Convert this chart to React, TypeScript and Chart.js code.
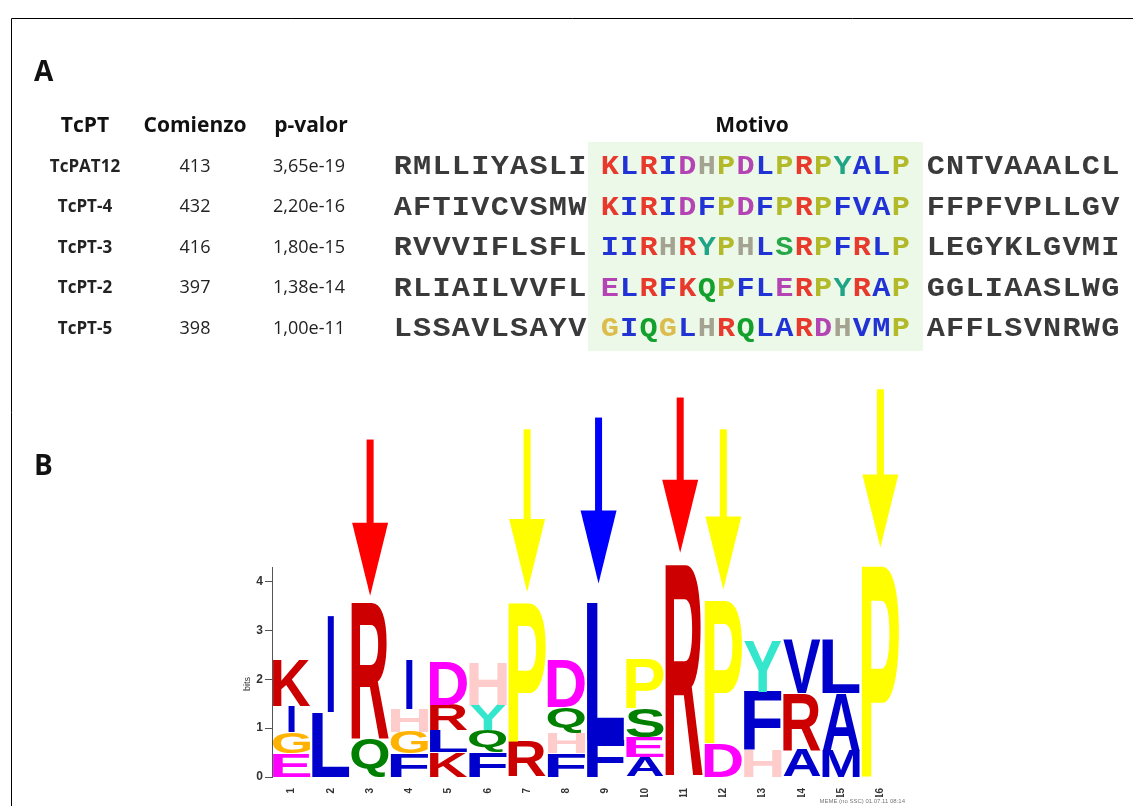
import React, { useEffect, useRef } from 'react';
import { Chart, registerables } from 'chart.js';

Chart.register(...registerables);

// ---------- Panel A: table data ----------
const tableHeaders = ['TcPT', 'Comienzo', 'p-valor', 'Motivo'];
const seqNames = ['TcPAT12', 'TcPT-4', 'TcPT-3', 'TcPT-2', 'TcPT-5'];
const starts = ['413', '432', '416', '397', '398'];
const pValues = ['3,65e-19', '2,20e-16', '1,80e-15', '1,38e-14', '1,00e-11'];
const leftFlanks = ['RMLLIYASLI', 'AFTIVCVSMW', 'RVVVIFLSFL', 'RLIAILVVFL', 'LSSAVLSAYV'];
const motifs = ['KLRIDHPDLPRPYALP', 'KIRIDFPDFPRPFVAP', 'IIRHRYPHLSRPFRLP', 'ELRFKQPFLERPYRAP', 'GIQGLHRQLARDHVMP'];
const rightFlanks = ['CNTVAAALCL', 'FFPFVPLLGV', 'LEGYKLGVMI', 'GGLIAASLWG', 'AFFLSVNRWG'];

// ---------- Panel B: sequence logo (stack layers, bottom -> top) ----------
const positions = ['1', '2', '3', '4', '5', '6', '7', '8', '9', '10', '11', '12', '13', '14', '15', '16'];
const layer1Letters = ['E', 'L', 'Q', 'F', 'K', 'F', 'R', 'F', 'F', 'A', 'R', 'D', 'H', 'A', 'M', 'P'];
const layer1Bits = [0.49, 1.33, 0.78, 0.48, 0.51, 0.51, 0.72, 0.49, 0.76, 0.41, 4.35, 0.70, 0.55, 0.55, 0.55, 4.35];
const layer2Letters = ['G', 'I', 'R', 'G', 'L', 'Q', 'P', 'H', 'L', 'E', '', 'P', 'F', 'R', 'A', ''];
const layer2Bits = [0.44, 1.99, 2.79, 0.45, 0.45, 0.45, 2.85, 0.43, 2.81, 0.41, 0, 2.93, 1.20, 1.17, 1.17, 0];
const layer3Letters = ['I', '', '', 'H', 'R', 'Y', '', 'Q', '', 'S', '', '', 'Y', 'V', 'L', ''];
const layer3Bits = [0.53, 0, 0, 0.47, 0.52, 0.52, 0, 0.52, 0, 0.59, 0, 0, 1.06, 1.09, 1.09, 0];
const layer4Letters = ['K', '', '', 'I', 'D', 'H', '', 'D', '', 'P', '', '', '', '', '', ''];
const layer4Bits = [0.94, 0, 0, 1.0, 0.88, 0.88, 0, 0.96, 0, 0.99, 0, 0, 0, 0, 0, 0];
const yTicks = [0, 1, 2, 3, 4];

// arrows above the logo
const arrowColumns = ['3', '7', '9', '11', '12', '16'];
const arrowTailBits = [6.91, 7.12, 7.36, 7.77, 7.12, 7.94];
const arrowTipBits = [3.71, 3.79, 3.96, 4.59, 3.84, 4.70];
const arrowShift = [0, 0, -0.18, -0.1, 0, 0];
const arrowColors = ['#ff0000', '#ffff00', '#0000ff', '#ff0000', '#ffff00', '#ffff00'];

const footerText = 'MEME (no SSC) 01.07.11 08:14';

// ---------- styles ----------
const SANS = '"Open Sans", "Noto Sans", sans-serif';
const MONO = '"Liberation Mono", "DejaVu Sans Mono", monospace';
const LOGO_FONT = '"Liberation Sans", Arial, sans-serif';

const logoColors: Record<string, string> = {
  A: '#0000cc', C: '#0000cc', F: '#0000cc', I: '#0000cc', L: '#0000cc', V: '#0000cc', W: '#0000cc', M: '#0000cc',
  N: '#008000', Q: '#008000', S: '#008000', T: '#008000',
  D: '#ff00ff', E: '#ff00ff', K: '#cc0000', R: '#cc0000',
  H: '#ffcccc', G: '#ffb300', P: '#ffff00', Y: '#33e6cc',
};
const seqColors: Record<string, string> = {
  K: '#e8392d', R: '#e8392d', L: '#2233d6', I: '#2233d6', F: '#2233d6', V: '#2233d6', A: '#2233d6', M: '#2233d6',
  D: '#b444b4', E: '#b444b4', H: '#a4a290', P: '#b2ba2a', Y: '#1fa585', Q: '#14a02c', S: '#26a848', G: '#dcbc4a',
};

const layers = [
  { letters: layer1Letters, bits: layer1Bits },
  { letters: layer2Letters, bits: layer2Bits },
  { letters: layer3Letters, bits: layer3Bits },
  { letters: layer4Letters, bits: layer4Bits },
];

function drawGlyph(ctx: CanvasRenderingContext2D, ch: string, left: number, top: number, w: number, h: number, color: string) {
  ctx.save();
  ctx.font = `bold 200px ${LOGO_FONT}`;
  ctx.textAlign = 'left';
  ctx.textBaseline = 'alphabetic';
  const m = ctx.measureText(ch);
  const gl = m.actualBoundingBoxLeft;
  const ga = m.actualBoundingBoxAscent;
  const gw = m.actualBoundingBoxLeft + m.actualBoundingBoxRight;
  const gh = m.actualBoundingBoxAscent + m.actualBoundingBoxDescent;
  ctx.translate(left, top);
  ctx.scale(w / gw, h / gh);
  ctx.fillStyle = color;
  ctx.fillText(ch, gl, ga);
  ctx.restore();
}

const figurePlugin = {
  id: 'figure',
  beforeDraw(chart: any) {
    const ctx: CanvasRenderingContext2D = chart.ctx;
    ctx.save();
    ctx.fillStyle = '#ffffff';
    ctx.fillRect(0, 0, chart.width, chart.height);
    // frame
    ctx.strokeStyle = '#000';
    ctx.lineWidth = 1;
    ctx.beginPath();
    ctx.moveTo(11.5, chart.height);
    ctx.lineTo(11.5, 18.5);
    ctx.lineTo(chart.width, 18.5);
    ctx.stroke();

    // panel letters
    ctx.fillStyle = '#111';
    ctx.textAlign = 'left';
    ctx.textBaseline = 'alphabetic';
    ctx.font = `bold 28px ${SANS}`;
    ctx.fillText('A', 34, 81);
    ctx.fillText('B', 34, 475);

    // headers
    ctx.font = `bold 21px ${SANS}`;
    ctx.textAlign = 'center';
    const headerX = [85, 195, 311, 752];
    tableHeaders.forEach((t, i) => ctx.fillText(t, headerX[i], 132));

    // motif background
    ctx.fillStyle = '#ecf8e8';
    ctx.fillRect(588, 142, 335, 209);

    const rowY0 = 165;
    const rowStep = 40.6;
    for (let r = 0; r < seqNames.length; r++) {
      const cy = rowY0 + r * rowStep;
      ctx.fillStyle = '#222';
      ctx.textAlign = 'center';
      ctx.font = `bold 17px ${SANS}`;
      ctx.fillText(seqNames[r], 85, cy + 6.5);
      ctx.font = `18px ${SANS}`;
      ctx.fillText(starts[r], 195, cy + 6.5);
      ctx.fillText(pValues[r], 309, cy + 6.5);

      const pitch = 19.4;
      const blocks = [
        { s: leftFlanks[r], x0: 393, colored: false },
        { s: motifs[r], x0: 600, colored: true },
        { s: rightFlanks[r], x0: 926, colored: false },
      ];
      ctx.font = `bold 27px ${MONO}`;
      blocks.forEach((b) => {
        for (let i = 0; i < b.s.length; i++) {
          const ch = b.s[i];
          const cx = b.x0 + (i + 0.5) * pitch;
          ctx.save();
          ctx.translate(cx, cy + 9);
          ctx.scale(1.12, 1);
          ctx.fillStyle = b.colored ? (seqColors[ch] || '#333') : '#3a3a3a';
          ctx.fillText(ch, 0, 0);
          ctx.restore();
        }
      });
    }
    ctx.restore();
  },
  afterDatasetsDraw(chart: any) {
    const ctx: CanvasRenderingContext2D = chart.ctx;
    chart.data.datasets.forEach((ds: any, di: number) => {
      const meta = chart.getDatasetMeta(di);
      meta.data.forEach((el: any, j: number) => {
        const ch = ds.letters[j];
        if (!ch) return;
        const { x, y, base, width } = el.getProps(['x', 'y', 'base', 'width'], true);
        const top = Math.min(y, base);
        const h = Math.abs(base - y);
        if (h < 1) return;
        let w = width - 2;
        if (ch === 'I') w = width * 0.16;
        drawGlyph(ctx, ch, x - w / 2, top, w, h, logoColors[ch] || '#000');
      });
    });
  },
  afterDraw(chart: any) {
    const ctx: CanvasRenderingContext2D = chart.ctx;
    const xs = chart.scales.x;
    const ys = chart.scales.y;
    const band = (xs.right - xs.left) / positions.length;
    ctx.save();
    arrowColumns.forEach((col, i) => {
      const idx = positions.indexOf(col);
      const x = xs.getPixelForValue(idx) + arrowShift[i] * band;
      const yTail = ys.getPixelForValue(arrowTailBits[i]);
      const yTip = ys.getPixelForValue(arrowTipBits[i]);
      const headLen = 73;
      const yHead = yTip - headLen;
      ctx.fillStyle = arrowColors[i];
      ctx.fillRect(x - 3.5, yTail, 7, yHead - yTail + 2);
      ctx.beginPath();
      ctx.moveTo(x - 18, yHead);
      ctx.lineTo(x + 18, yHead);
      ctx.lineTo(x, yTip);
      ctx.closePath();
      ctx.fill();
    });
    // y-axis title
    ctx.fillStyle = '#333';
    ctx.font = `9px ${LOGO_FONT}`;
    ctx.textAlign = 'center';
    ctx.textBaseline = 'middle';
    ctx.translate(248, (ys.top + ys.bottom) / 2 + 12);
    ctx.rotate(-Math.PI / 2);
    ctx.fillText('bits', 0, 0);
    ctx.restore();
    ctx.save();
    ctx.fillStyle = '#777';
    ctx.font = `6px ${LOGO_FONT}`;
    ctx.textAlign = 'right';
    ctx.textBaseline = 'alphabetic';
    ctx.fillText(footerText, 905, 803);
    ctx.restore();
  },
};

export default function App() {
  const ref = useRef<HTMLCanvasElement>(null);
  useEffect(() => {
    if (!ref.current) return;
    const chart = new Chart(ref.current, {
      type: 'bar',
      data: {
        labels: positions,
        datasets: layers.map((l, i) => ({
          label: `layer${i + 1}`,
          data: l.bits,
          letters: l.letters,
          backgroundColor: 'rgba(0,0,0,0)',
          borderWidth: 0,
          barPercentage: 1,
          categoryPercentage: 1,
        })) as any,
      },
      options: {
        responsive: false,
        animation: false,
        events: [],
        layout: { padding: { left: 232, right: 233, top: 567, bottom: 9 } },
        plugins: { legend: { display: false }, tooltip: { enabled: false } },
        scales: {
          x: {
            stacked: true,
            offset: true,
            grid: { display: false },
            border: { display: false },
            ticks: {
              minRotation: 90,
              maxRotation: 90,
              padding: 3,
              color: '#333',
              font: { family: LOGO_FONT, weight: 'bold', size: 10 },
            },
            afterFit: (s: any) => { s.height = 20; },
          },
          y: {
            stacked: true,
            min: 0,
            max: 4.3,
            afterBuildTicks: (s: any) => { s.ticks = yTicks.map((v) => ({ value: v })); },
            ticks: {
              color: '#333',
              padding: 2,
              font: { family: LOGO_FONT, weight: 'bold', size: 12 },
            },
            grid: { display: true, drawOnChartArea: false, drawTicks: true, tickLength: 7, color: '#555' },
            border: { display: true, color: '#555', width: 1 },
            afterFit: (s: any) => { s.width = 40; },
          },
        },
      },
      plugins: [figurePlugin],
    } as any);
    return () => chart.destroy();
  }, []);
  return (
    <div style={{ position: 'fixed', left: 0, top: 0, width: 1133, height: 806, background: '#fff' }}>
      <canvas ref={ref} width={1133} height={806} style={{ display: 'block', width: 1133, height: 806 }} />
    </div>
  );
}
